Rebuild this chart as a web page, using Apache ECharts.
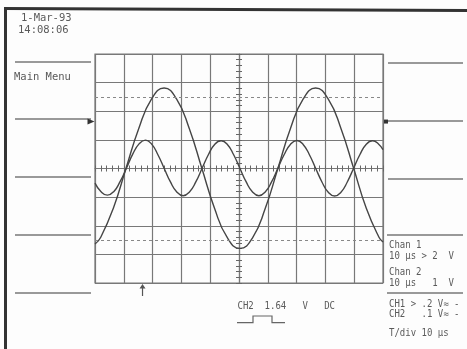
<!DOCTYPE html>
<html>
<head>
<meta charset="utf-8">
<script src="https://cdn.jsdelivr.net/npm/echarts@6/dist/echarts.min.js"></script>
<style>
html,body{margin:0;padding:0;background:#fdfdfd;}
#chart{width:467px;height:349px;}
</style>
</head>
<body>
<div id="chart"></div>
<script>
// Chan 1 trace (large sine, 2 V/div): sample times (µs, 10 µs/div, centre = 0) and readings in divisions
const ch1Time = [-50, -48.0, -43.6, -39.2, -34.8, -30.4, -26.0, -21.7, -17.3, -12.9, -8.5, -4.1, 0.3, 4.7, 9.1, 13.5, 17.9, 22.3, 26.6, 31.0, 35.4, 39.8, 44.2, 48.6, 50];
const ch1Div  = [-2.64, -2.40, -1.38, 0.02, 1.40, 2.42, 2.81, 2.43, 1.41, 0.01, -1.39, -2.41, -2.79, -2.42, -1.40, 0.00, 1.41, 2.43, 2.81, 2.42, 1.40, 0.01, -1.39, -2.40, -2.57];
// Chan 2 trace (small sine, 1 V/div)
const ch2Time = [-50, -47.9, -45.7, -43.5, -41.3, -39.1, -36.9, -34.7, -32.5, -30.4, -28.2, -26.0, -23.8, -21.6, -19.4, -17.2, -15.0, -12.8, -10.6, -8.4, -6.2, -4.1, -1.9, 0.3, 2.5, 4.7, 6.9, 9.1, 11.3, 13.5, 15.7, 17.9, 20.1, 22.2, 24.4, 26.6, 28.8, 31.0, 33.2, 35.4, 37.6, 39.8, 42.0, 44.2, 46.4, 48.5, 50];
const ch2Div  = [-0.51, -0.81, -0.93, -0.81, -0.46, 0.01, 0.50, 0.86, 0.99, 0.86, 0.49, 0.01, -0.47, -0.82, -0.95, -0.82, -0.47, 0.01, 0.49, 0.85, 0.97, 0.85, 0.49, 0.01, -0.47, -0.82, -0.95, -0.82, -0.47, 0.01, 0.49, 0.85, 0.98, 0.85, 0.49, 0.01, -0.47, -0.83, -0.96, -0.83, -0.47, 0.01, 0.49, 0.85, 0.97, 0.85, 0.66];
// Dotted cursor levels (div)
const cursorLevels = [2.5, -2.5];
// Trigger level (div) and trigger time (µs)
const triggerLevel = 1.64;
const triggerTime = -33.5;
// Axis ranges
const xRange = [-50, 50], xStep = 10;
const yRange = [-4, 4], yStep = 1;
// Texts
const dateText = '1-Mar-93';
const timeText = '14:08:06';
const menuText = 'Main Menu';
const rightTexts = ['Chan 1', '10 µs > 2  V', 'Chan 2', '10 µs   1  V', 'CH1 > .2 V≈ -', 'CH2   .1 V≈ -', 'T/div 10 µs'];
const bottomText = 'CH2  1.64   V   DC';

const gridCol = '#787878';
const traceCol = '#454545';
const textCol = '#5a5a5a';
const monoFont = '"DejaVu Sans Mono", monospace';

function txt(s, x, y, size, sx) {
  return {type:'text', x:x, y:y, scaleX: sx || 1, silent:true,
    style:{text:s, x:0, y:0, fill:textCol, font: size + 'px ' + monoFont,
      verticalAlign:'middle', textVerticalAlign:'middle'}};
}
function ln(x1,y1,x2,y2,w,c){
  return {type:'line', silent:true, shape:{x1:x1,y1:y1,x2:x2,y2:y2},
    style:{stroke:c||'#777', lineWidth:w||1.3}};
}

const elements = [
  // frame
  ln(5.5, 8.5, 5.5, 349, 3, '#333'),
  ln(4, 8.5, 467, 10.5, 3, '#333'),
  // left soft-key lines
  ln(15, 62, 91, 62), ln(15, 119, 91, 119), ln(15, 177, 91, 177), ln(15, 235, 91, 235), ln(15, 293, 91, 293),
  // right soft-key lines
  ln(388, 63, 463, 63), ln(388, 121, 463, 121), ln(388, 179, 463, 179), ln(387, 235, 463, 235), ln(387, 293, 463, 293),
  txt(dateText, 21, 18.5, 10.5),
  txt(timeText, 18, 30.5, 10.5),
  txt(menuText, 14, 77, 10.5),
  txt(rightTexts[0], 389, 245, 10, 0.9),
  txt(rightTexts[1], 389, 256, 10, 0.9),
  txt(rightTexts[2], 389, 272, 10, 0.9),
  txt(rightTexts[3], 389, 283.5, 10, 0.9),
  txt(rightTexts[4], 389, 304, 10, 0.9),
  txt(rightTexts[5], 389, 314, 10, 0.9),
  txt(rightTexts[6], 389, 333, 10, 0.9),
  txt(bottomText, 237.5, 306.5, 10, 0.9),
  {type:'polyline', silent:true, shape:{points:[[237,322.7],[253,322.7],[253,316],[272,316],[272,322.7],[285,322.7]]},
    style:{stroke:'#666', lineWidth:1.2, fill:null}}
];

const tickStyle = {color:'#666', width:1};
const chart = echarts.init(document.getElementById('chart'), null, {renderer:'canvas'});
chart.setOption({
  animation:false,
  backgroundColor:'#fdfdfd',
  grid:{left:95, top:54, width:288, height:229, show:true, borderColor:gridCol, borderWidth:1.2, backgroundColor:'transparent', containLabel:false, outerBoundsMode:'none'},
  xAxis:[
    {type:'value', min:xRange[0], max:xRange[1], interval:xStep, position:'bottom',
      axisLine:{show:true, onZero:true, onZeroAxisIndex:0, lineStyle:{color:gridCol, width:1.2}},
      axisTick:{show:true, length:3, lineStyle:tickStyle},
      minorTick:{show:true, splitNumber:5, length:3, lineStyle:tickStyle},
      axisLabel:{show:false},
      splitLine:{show:true, lineStyle:{color:gridCol, width:1.2}},
      minorSplitLine:{show:false}},
    {type:'value', min:xRange[0], max:xRange[1], interval:xStep, position:'top',
      axisLine:{show:false, onZero:true, onZeroAxisIndex:0},
      axisTick:{show:true, length:3, lineStyle:tickStyle},
      minorTick:{show:true, splitNumber:5, length:3, lineStyle:tickStyle},
      axisLabel:{show:false}, splitLine:{show:false}}
  ],
  yAxis:[
    {type:'value', min:yRange[0], max:yRange[1], interval:yStep, position:'left',
      axisLine:{show:true, onZero:true, onZeroAxisIndex:0, lineStyle:{color:gridCol, width:1.2}},
      axisTick:{show:true, length:3, lineStyle:tickStyle},
      minorTick:{show:true, splitNumber:5, length:3, lineStyle:tickStyle},
      axisLabel:{show:false},
      splitLine:{show:true, lineStyle:{color:gridCol, width:1.2}},
      minorSplitLine:{show:false}},
    {type:'value', min:yRange[0], max:yRange[1], interval:yStep, position:'right',
      axisLine:{show:false, onZero:true, onZeroAxisIndex:0},
      axisTick:{show:true, length:3, lineStyle:tickStyle},
      minorTick:{show:true, splitNumber:5, length:3, lineStyle:tickStyle},
      axisLabel:{show:false}, splitLine:{show:false}}
  ],
  series:[
    {name:'Chan 1', type:'line', xAxisIndex:0, yAxisIndex:0, showSymbol:false, smooth:true, clip:true,
      data: ch1Time.map((t,i)=>[t, ch1Div[i]]),
      lineStyle:{color:traceCol, width:1.4},
      markLine:{silent:true, symbol:'none', label:{show:false},
        lineStyle:{color:'#888', type:[3,3], width:1},
        data: cursorLevels.map(v=>({yAxis:v}))},
      markPoint:{silent:true, label:{show:false},
        data:[
          {coord:[xRange[0], triggerLevel], symbol:'triangle', symbolSize:[6,7], symbolRotate:-90, symbolOffset:[-4,0], itemStyle:{color:'#333'}},
          {coord:[xRange[1], triggerLevel], symbol:'rect', symbolSize:[4,4], symbolOffset:[3,0], itemStyle:{color:'#333'}},
          {coord:[triggerTime, yRange[0]], symbol:'path://M5,0 L9,6 L5.8,6 L5.8,16 L4.2,16 L4.2,6 L1,6 Z', symbolSize:[6,12], symbolOffset:[0,7], itemStyle:{color:'#555'}}
        ]}},
    {name:'Chan 2', type:'line', xAxisIndex:0, yAxisIndex:0, showSymbol:false, smooth:true, clip:true,
      data: ch2Time.map((t,i)=>[t, ch2Div[i]]),
      lineStyle:{color:traceCol, width:1.4}}
  ],
  graphic:{elements:elements}
});
</script>
</body>
</html>
